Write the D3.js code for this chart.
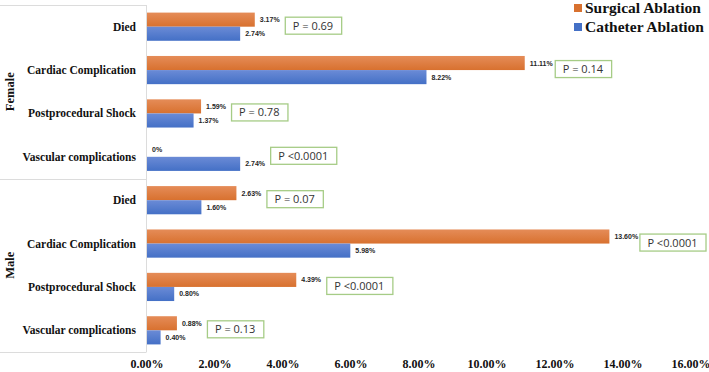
<!DOCTYPE html>
<html>
<head>
<meta charset="utf-8">
<script src="https://cdn.jsdelivr.net/npm/d3@7"></script>
<style>
  body { margin: 0; background: #fff; }
  svg { display: block; }
  .serif { font-family: "Liberation Serif", Tinos, "Noto Serif", "DejaVu Serif", FreeSerif, Times, serif; font-weight: bold; fill: #111; }
</style>
</head>
<body>
<script>
// data (percent)
var groups = ["Female", "Male"];
var categories = ["Died", "Cardiac Complication", "Postprocedural Shock", "Vascular complications"];
var series = ["Surgical Ablation", "Catheter Ablation"];
var surgical = [3.17, 11.11, 1.59, 0, 2.63, 13.60, 4.39, 0.88];
var catheter = [2.74, 8.22, 1.37, 2.74, 1.60, 5.98, 0.80, 0.40];
var pLabels = ["P = 0.69", "P = 0.14", "P = 0.78", "P <0.0001", "P = 0.07", "P <0.0001", "P <0.0001", "P = 0.13"];
var xTicks = [0, 2, 4, 6, 8, 10, 12, 14, 16];

var width = 709,
  height = 372;

var rows = [];
groups.forEach(function (g, gi) {
  categories.forEach(function (c, ci) {
    var i = gi * categories.length + ci;
    rows.push({ i: i, group: g, cat: c, values: [surgical[i], catheter[i]], p: pLabels[i] });
  });
});

var svg = d3.select("body").append("svg")
  .attr("width", width)
  .attr("height", height);

var defs = svg.append("defs");
var colors = [["#e58c58", "#d8712f"], ["#6b8bd6", "#4470c6"]];
colors.forEach(function (c, k) {
  var grad = defs.append("linearGradient")
    .attr("id", "grad" + k)
    .attr("x1", "0%").attr("y1", "0%")
    .attr("x2", "0%").attr("y2", "100%");
  grad.append("stop").attr("offset", "0%").attr("stop-color", c[0]);
  grad.append("stop").attr("offset", "100%").attr("stop-color", c[1]);
});

var x = d3.scaleLinear()
  .domain([0, 16])
  .range([147, 691]);

var y = d3.scaleBand()
  .domain(d3.range(rows.length))
  .range([5, 352])
  .paddingInner(0.35)
  .paddingOuter(0.175);

var inner = d3.scaleBand()
  .domain([0, 1])
  .range([0, y.bandwidth()]);

// axis frame lines of the grouped category axis
var lineColor = "#dcdcdc";
svg.append("line")
  .attr("x1", x(0) - 0.5).attr("x2", x(0) - 0.5)
  .attr("y1", 5).attr("y2", 352)
  .attr("stroke", lineColor);
[5, y(4) - y.step() * y.paddingInner() / 2, 352].forEach(function (yy) {
  svg.append("line")
    .attr("x1", 0).attr("x2", x(0) - 0.5)
    .attr("y1", Math.round(yy) + 0.5).attr("y2", Math.round(yy) + 0.5)
    .attr("stroke", lineColor);
});

var row = svg.selectAll(".row")
  .data(rows)
  .enter().append("g")
  .attr("class", "row")
  .attr("transform", function (d) { return "translate(0," + y(d.i) + ")"; });

row.selectAll("rect")
  .data(function (d) { return d.values; })
  .enter().append("rect")
  .attr("x", x(0))
  .attr("y", function (v, k) { return inner(k); })
  .attr("width", function (v) { return x(v) - x(0); })
  .attr("height", inner.bandwidth())
  .style("fill", function (v, k) { return "url(#grad" + k + ")"; });

row.selectAll(".val")
  .data(function (d) { return d.values; })
  .enter().append("text")
  .attr("class", "val")
  .attr("x", function (v) { return x(v) + 5; })
  .attr("y", function (v, k) { return inner(k) + inner.bandwidth() / 2 + 2.5; })
  .style("font-family", "'Liberation Sans', Arial, sans-serif")
  .style("font-size", "7px")
  .style("font-weight", "bold")
  .style("fill", "#262626")
  .text(function (v) { return v === 0 ? "0%" : v.toFixed(2) + "%"; });

// category labels
row.append("text")
  .attr("class", "serif")
  .attr("x", 136)
  .attr("y", y.bandwidth() / 2 + 4)
  .attr("text-anchor", "end")
  .style("font-size", "11.5px")
  .text(function (d) { return d.cat; });

// p-value boxes
var pbox = row.append("g")
  .attr("transform", function (d) {
    return "translate(" + (x(d3.max(d.values)) + 30) + "," + (y.bandwidth() / 2 - 1) + ")";
  });
pbox.append("text")
  .attr("x", 8)
  .attr("y", 4)
  .style("font-family", "'Open Sans', 'Noto Sans', sans-serif")
  .style("font-size", "11px")
  .style("fill", "#333")
  .text(function (d) { return d.p; });
pbox.insert("rect", "text")
  .attr("x", 0.5)
  .attr("y", -8.5)
  .attr("height", 17)
  .attr("width", function () {
    return this.parentNode.querySelector("text").getComputedTextLength() + 16;
  })
  .attr("fill", "#fff")
  .attr("stroke", "#a6cc86")
  .attr("stroke-width", 1.3);

// group labels
groups.forEach(function (g, gi) {
  var top = y(gi * 4) - y.step() * y.paddingOuter(),
    bottom = y(gi * 4 + 3) + y.bandwidth() + y.step() * y.paddingOuter();
  svg.append("text")
    .attr("class", "serif")
    .attr("transform", "translate(14," + ((top + bottom) / 2) + ") rotate(-90)")
    .attr("text-anchor", "middle")
    .style("font-size", "12.5px")
    .text(g);
});

// x axis tick labels
svg.selectAll(".tick")
  .data(xTicks)
  .enter().append("text")
  .attr("class", "tick serif")
  .attr("x", function (d) { return x(d); })
  .attr("y", 368)
  .attr("text-anchor", "middle")
  .style("font-size", "12px")
  .text(function (d) { return d3.format(".2f")(d) + "%"; });

// legend
var legend = svg.selectAll(".legend")
  .data(series)
  .enter().append("g")
  .attr("class", "legend")
  .attr("transform", function (d, i) { return "translate(574," + (4 + i * 19) + ")"; });
legend.append("rect")
  .attr("width", 8)
  .attr("height", 8)
  .attr("fill", function (d, i) { return colors[i][1]; });
legend.append("text")
  .attr("class", "serif")
  .attr("x", 11)
  .attr("y", 9)
  .style("font-size", "15.5px")
  .text(function (d) { return d; });
</script>
</body>
</html>
